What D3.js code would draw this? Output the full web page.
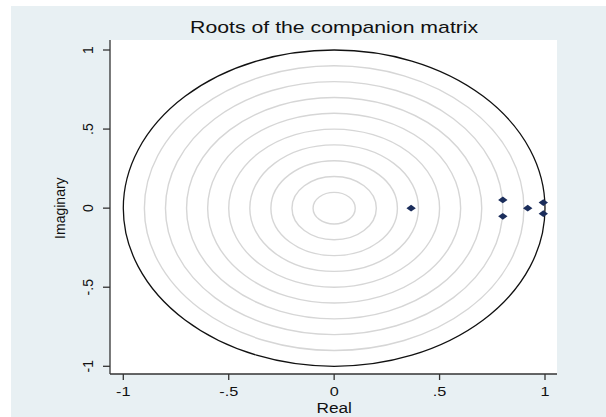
<!DOCTYPE html>
<html>
<head>
<meta charset="utf-8">
<script src="https://cdn.jsdelivr.net/npm/d3@7"></script>
<style>
html,body{margin:0;padding:0;background:#fff;}
svg{display:block;font-family:"Liberation Sans",Arial,sans-serif;}
</style>
</head>
<body>
<svg id="chart" width="606" height="417"></svg>
<script>
// Data: roots of the companion matrix (real, imaginary)
const realParts = [0.365, 0.80, 0.80, 0.918, 0.992, 0.992];
const imagParts = [0.0, 0.052, -0.052, 0.0, 0.035, -0.035];
const gridRadii = [0.1, 0.2, 0.3, 0.4, 0.5, 0.6, 0.7, 0.8, 0.9];
const unitRadius = [1];
const xTicks = [-1, -0.5, 0, 0.5, 1];
const xTickLabels = ["-1", "-.5", "0", ".5", "1"];
const yTicks = [-1, -0.5, 0, 0.5, 1];
const yTickLabels = ["-1", "-.5", "0", ".5", "1"];

const svg = d3.select("#chart");
svg.append("rect").attr("x", 11).attr("y", 6).attr("width", 595).attr("height", 411).attr("fill", "#e8f0f3");

const plot = {left: 110, right: 557, top: 40, bottom: 374};
svg.append("rect").attr("x", plot.left).attr("y", plot.top)
  .attr("width", plot.right - plot.left).attr("height", plot.bottom - plot.top).attr("fill", "#ffffff");

const x = d3.scaleLinear().domain([-1, 1]).range([123.3, 545]);
const y = d3.scaleLinear().domain([-1, 1]).range([366.3, 50]);

svg.append("g").selectAll("ellipse").data(gridRadii).join("ellipse")
  .attr("cx", x(0)).attr("cy", y(0))
  .attr("rx", d => x(d) - x(0)).attr("ry", d => y(0) - y(d))
  .attr("fill", "none").attr("stroke", "#d6d6d6").attr("stroke-width", 1.4);

svg.append("g").selectAll("ellipse").data(unitRadius).join("ellipse")
  .attr("cx", x(0)).attr("cy", y(0))
  .attr("rx", d => x(d) - x(0)).attr("ry", d => y(0) - y(d))
  .attr("fill", "none").attr("stroke", "#111").attr("stroke-width", 1.3);

// flattened diamond marker
const flatDiamond = {
  draw(ctx) {
    ctx.moveTo(0, -3.4); ctx.lineTo(4.7, 0); ctx.lineTo(0, 3.4); ctx.lineTo(-4.7, 0); ctx.closePath();
  }
};
const pts = realParts.map((r, i) => ({re: r, im: imagParts[i]}));
svg.append("g").selectAll("path").data(pts).join("path")
  .attr("d", d3.symbol().type(flatDiamond)())
  .attr("transform", d => `translate(${x(d.re)},${y(d.im)})`)
  .attr("fill", "#1b2d5b");

// x axis
const xAxis = svg.append("g").attr("transform", `translate(0,${plot.bottom})`);
xAxis.append("line").attr("x1", plot.left).attr("x2", plot.right).attr("y1", 0).attr("y2", 0)
  .attr("stroke", "#333").attr("stroke-width", 1.3);
xAxis.selectAll("line.tick").data(xTicks).join("line").attr("class", "tick")
  .attr("x1", d => x(d)).attr("x2", d => x(d)).attr("y1", 0).attr("y2", 6)
  .attr("stroke", "#333").attr("stroke-width", 1.3);
xAxis.selectAll("text").data(xTicks).join("text")
  .attr("transform", d => `translate(${x(d)},22) scale(1.25,1)`)
  .attr("text-anchor", "middle")
  .attr("font-size", 13).attr("fill", "#111")
  .text((d, i) => xTickLabels[i]);
svg.append("text").attr("transform", `translate(${x(0)},413) scale(1.15,1)`).attr("text-anchor", "middle")
  .attr("font-size", 15).attr("fill", "#111").text("Real");

// y axis
const yAxis = svg.append("g").attr("transform", `translate(${plot.left},0)`);
yAxis.append("line").attr("x1", 0).attr("x2", 0).attr("y1", plot.top).attr("y2", plot.bottom)
  .attr("stroke", "#333").attr("stroke-width", 1.3);
yAxis.selectAll("line.tick").data(yTicks).join("line").attr("class", "tick")
  .attr("x1", -7).attr("x2", 0).attr("y1", d => y(d)).attr("y2", d => y(d))
  .attr("stroke", "#333").attr("stroke-width", 1.3);
yAxis.selectAll("text").data(yTicks).join("text")
  .attr("transform", d => `translate(-17,${y(d)}) rotate(-90)`)
  .attr("text-anchor", "middle").attr("font-size", 14).attr("fill", "#111")
  .text((d, i) => yTickLabels[i]);
svg.append("text").attr("transform", `translate(65,${y(0)}) rotate(-90)`)
  .attr("text-anchor", "middle").attr("font-size", 14).attr("fill", "#111").text("Imaginary");

// title
svg.append("text").attr("transform", `translate(${x(0)},33) scale(1.25,1)`).attr("text-anchor", "middle")
  .attr("font-size", 17).attr("fill", "#111").text("Roots of the companion matrix");
</script>
</body>
</html>
